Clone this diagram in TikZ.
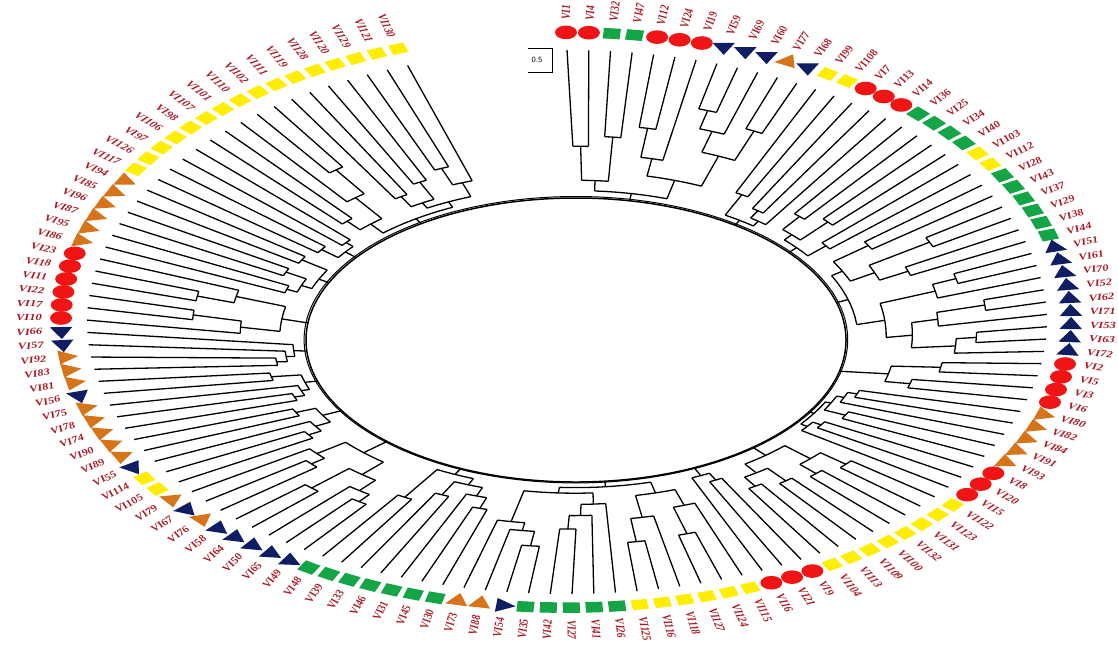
\documentclass[tikz,border=0pt]{standalone}
\usepackage{fontspec}
\setmainfont{Liberation Serif}
\definecolor{cred}{RGB}{240,20,20}
\definecolor{cgreen}{RGB}{20,165,70}
\definecolor{cyellow}{RGB}{255,238,0}
\definecolor{cblue}{RGB}{15,30,100}
\definecolor{corange}{RGB}{215,115,25}
\definecolor{ctext}{RGB}{170,25,35}
\tikzset{
  branch/.style={draw=black, line width=1.3pt},
  ringline/.style={draw=black, line width=1.5pt},
  lbl/.style={text=ctext, font=\fontsize{12.5}{12.5}\selectfont\bfseries\itshape, inner sep=0pt, transform shape},
}
\newcommand\PX[2]{576-9*(#2)+(270+210*(#2))*cos(#1)}
\newcommand\PY[2]{-340+18*(#2)+(142+130*(#2))*sin(#1)}
\newcommand\symr[1]{\fill[cred] (0,0) ellipse [x radius=11, y radius=11];}
\newcommand\symg[1]{\fill[cgreen, rotate=#1] (-8.5,-8.5) rectangle (8.5,8.5);}
\newcommand\symy[1]{\fill[cyellow, rotate=#1] (-8,-8) rectangle (8,8);}
\newcommand\symb[1]{\pgfmathsetmacro\bang{sin(#1)>0.5 ? -90 : #1+90}\fill[cblue] (\bang:13) -- (\bang+120:13) -- (\bang+240:13) -- cycle;}
\newcommand\symo[1]{\pgfmathsetmacro\oang{cos(#1)>=0 ? #1 : #1+180}\fill[corange] (\oang:13) -- (\oang+120:13) -- (\oang+240:13) -- cycle;}
\begin{document}
\begin{tikzpicture}[x=1pt,y=1pt]
\useasboundingbox (0,0) rectangle (1118,-649);
\fill[white] (0,0) rectangle (1118,-649);
% inner ring
\draw[ringline] (576,-340) ellipse [x radius=270, y radius=142];
\draw[branch, line width=1pt] (575.9,-339.7) ellipse [x radius=271.8, y radius=143.2];
% internal nodes: first child / last child / depth / parent depth
\foreach \na/\nb/\nd/\np in {1/2/.35/.12, 3/4/.42/.12, 1.5/3.5/.12/.05, 5/6/.5/.3, 5.5/7/.3/.18, 8/9/.68/.55, 8.5/10/.55/.4, 11/12/.62/.4, 9.25/11.5/.4/.18, 6.25/10.375/.18/.05, 2.5/8.3125/.05/0, 13/14/.2/.04, 15/16/.14/.08, 15.5/17/.08/.04, 13.5/16.25/.04/0,
18/19/.22/.1, 20/21/.28/.1, 18.5/20.5/.1/.05, 22/23/.16/.05, 19.5/22.5/.05/0, 24/25/.32/.12, 26/27/.58/.25, 28/29/.4/.25, 26.5/28.5/.25/.12, 24.5/27.5/.12/.06, 30/31/.6/.48, 30.5/32/.48/.2, 33/34/.7/.46, 33.5/35/.46/.33, 36/37/.65/.55, 36.5/38/.55/.33, 34.25/37.25/.33/.2, 31.25/35.75/.2/.06, 26/33.5/.06/0, 39/40/.5/.25, 41/42/.38/.25, 39.5/41.5/.25/0, 43/44/.15/.1, 43.5/45/.1/.06, 46/47/.18/.06, 44.25/46.5/.06/.03, 48/49/.12/.07, 48.5/50/.07/.03, 45.375/49.25/.03/0,
51/52/.45/.28, 53/54/.4/.28, 51.5/53.5/.28/.1, 55/56/.35/.2, 57/58/.3/.2, 55.5/57.5/.2/.1, 52.5/56.5/.1/0, 59/60/.15/.08, 59.5/61/.08/0, 63/64/.55/.3, 62/63.5/.3/.15, 66/67/.56/.35, 65/66.5/.35/.15, 62.75/65.75/.15/.05, 70/71/.42/.3, 69/70.5/.3/.2, 68/69.75/.2/.1, 72/73/.58/.45, 72.5/74/.45/.38, 73.25/75/.38/.1, 68.875/74.125/.1/.05, 64.25/71.5/.05/0,
76/77/.3/.2, 76.5/78/.2/.12, 79/80/.25/.12, 77.25/79.5/.12/.06, 81/82/.35/.06, 78.375/81.5/.06/0, 83/84/.5/.42, 83.5/85/.42/.3, 86/87/.55/.3, 84.25/86.5/.3/.15, 88/89/.4/.32, 88.5/90/.32/.15, 85.375/89.25/.15/0, 91/92/.25/.18, 91.5/93/.18/.1, 94/95/.2/.1, 92.25/94.5/.1/0, 96/97/.15/.1, 96.5/98/.1/.06, 99/100/.2/.06, 97.25/99.5/.06/0, 101/102/.15/.1, 101.5/103/.1/.06, 102.25/104/.06/0, 106/107/.52/.3, 105/106.5/.3/.12, 108/109/.52/.35, 108.5/110/.35/.12, 105.75/109.25/.12/0, 111/112/.15/.1, 113/114/.2/.1, 111.5/113.5/.1/.05, 115/116/.18/.05, 112.5/115.5/.05/0, 117/118/.15/.06, 119/120/.1/.06, 117.5/119.5/.06/0, 121/122/.2/.12, 124/125/.5/.3, 123/124.5/.3/.12, 121.5/123.75/.12/.04, 126/127/.2/.12, 128/129/.25/.12, 126.5/128.5/.12/.08, 130/131/.3/.18, 130.5/132/.18/.08, 127.5/131.25/.08/.04, 122.625/129.375/.04/0}{
  \pgfmathsetmacro\angA{90-(\na-1)*2.6}
  \pgfmathsetmacro\angB{90-(\nb-1)*2.6}
  \pgfmathsetmacro\angC{(\angA+\angB)/2}
  \draw[branch] plot[domain=\angB:\angA, samples=8] ({\PX{\x}{\nd}},{\PY{\x}{\nd}});
  \draw[branch] ({\PX{\angC}{\np}},{\PY{\angC}{\np}}) -- ({\PX{\angC}{\nd}},{\PY{\angC}{\nd}});
}
% leaves: index / number / kind / parent depth
\foreach \ii/\nm/\kk/\pd in {1/1/r/.35, 2/4/r/.35, 3/32/g/.42, 4/47/g/.42, 5/12/r/.5, 6/24/r/.5, 7/19/r/.3, 8/59/b/.68, 9/69/b/.68, 10/60/b/.55, 11/77/o/.62, 12/68/b/.62, 13/99/y/.2, 14/108/y/.2, 15/7/r/.14, 16/13/r/.14, 17/14/r/.08, 18/36/g/.22, 19/25/g/.22, 20/34/g/.28, 21/40/g/.28, 22/103/y/.16, 23/112/y/.16, 24/28/g/.32, 25/43/g/.32, 26/37/g/.58, 27/29/g/.58, 28/38/g/.4, 29/44/g/.4, 30/51/b/.6, 31/61/b/.6, 32/70/b/.48, 33/52/b/.7, 34/62/b/.7, 35/71/b/.46, 36/53/b/.65, 37/63/b/.65, 38/72/b/.55, 39/2/r/.5, 40/5/r/.5, 41/3/r/.38, 42/6/r/.38, 43/80/o/.15, 44/82/o/.15, 45/84/o/.1, 46/91/o/.18, 47/93/o/.18, 48/8/r/.12, 49/20/r/.12, 50/15/r/.07, 51/122/y/.45, 52/123/y/.45, 53/131/y/.4, 54/132/y/.4, 55/100/y/.35, 56/109/y/.35, 57/113/y/.3, 58/104/y/.3, 59/9/r/.15, 60/21/r/.15, 61/16/r/.08, 62/115/y/.3, 63/124/y/.55, 64/127/y/.55, 65/118/y/.35, 66/116/y/.56, 67/125/y/.56, 68/26/g/.2, 69/41/g/.3, 70/27/g/.42, 71/42/g/.42, 72/35/g/.58, 73/54/b/.58, 74/88/o/.45, 75/73/o/.38, 76/30/g/.3, 77/45/g/.3, 78/31/g/.2, 79/46/g/.25, 80/33/g/.25, 81/39/g/.35, 82/48/g/.35, 83/49/b/.5, 84/65/b/.5, 85/50/b/.42, 86/64/b/.55, 87/58/b/.55, 88/76/o/.4, 89/67/b/.4, 90/79/o/.32, 91/105/y/.25, 92/114/y/.25, 93/55/b/.18, 94/89/o/.2, 95/90/o/.2, 96/74/o/.15, 97/78/o/.15, 98/75/o/.1, 99/56/b/.2, 100/81/o/.2, 101/83/o/.15, 102/92/o/.15, 103/57/b/.1, 104/66/b/.06, 105/10/r/.3, 106/17/r/.52, 107/22/r/.52, 108/11/r/.52, 109/18/r/.52, 110/23/r/.35, 111/86/o/.15, 112/95/o/.15, 113/87/o/.2, 114/96/o/.2, 115/85/o/.18, 116/94/o/.18, 117/117/y/.15, 118/126/y/.15, 119/97/y/.1, 120/106/y/.1, 121/98/y/.2, 122/107/y/.2, 123/101/y/.3, 124/110/y/.5, 125/102/y/.5, 126/111/y/.2, 127/119/y/.2, 128/128/y/.25, 129/120/y/.25, 130/129/y/.3, 131/121/y/.3, 132/130/y/.18}{
  \pgfmathsetmacro\angA{90-(\ii-1)*2.6}
  \coordinate (b\ii) at ({\PX{\angA}{\pd}},{\PY{\angA}{\pd}});
  \coordinate (e\ii) at ({\PX{\angA}{1}},{\PY{\angA}{1}});
  \draw[branch] (b\ii) -- (e\ii);
  \pgfmathsetmacro\sx{566+505*cos(\angA)}
  \pgfmathsetmacro\sy{-320+287.6*sin(\angA)}
  \begin{scope}[shift={(\sx,\sy)}, yscale=0.62]
    \csname sym\kk\endcsname{\angA}
  \end{scope}
  \pgfmathsetmacro\lx{566+524*cos(\angA)}
  \pgfmathsetmacro\ly{-320+300*sin(\angA)}
  \pgfmathsetmacro\cosv{cos(\angA)}
  \begin{scope}[shift={(\lx,\ly)}, yscale=0.75]
    \ifdim \cosv pt<0pt
      \node[lbl, anchor=east, rotate=\angA+180] (L\ii) at (0,0) {VI\nm};
    \else
      \node[lbl, anchor=west, rotate=\angA] (L\ii) at (0,0) {VI\nm};
    \fi
  \end{scope}
}
% scale bar
\node[font=\sffamily\fontsize{8}{8}\selectfont, inner sep=0pt] (scale) at (537,-60) {0.5};
\coordinate (sb1) at (528,-48);
\coordinate (sb2) at (552,-48);
\coordinate (sb3) at (552,-72);
\coordinate (sb4) at (528,-72);
\draw[line width=0.9pt] (sb1) -- (sb2) -- (sb3) -- (sb4);
\end{tikzpicture}
\end{document}
